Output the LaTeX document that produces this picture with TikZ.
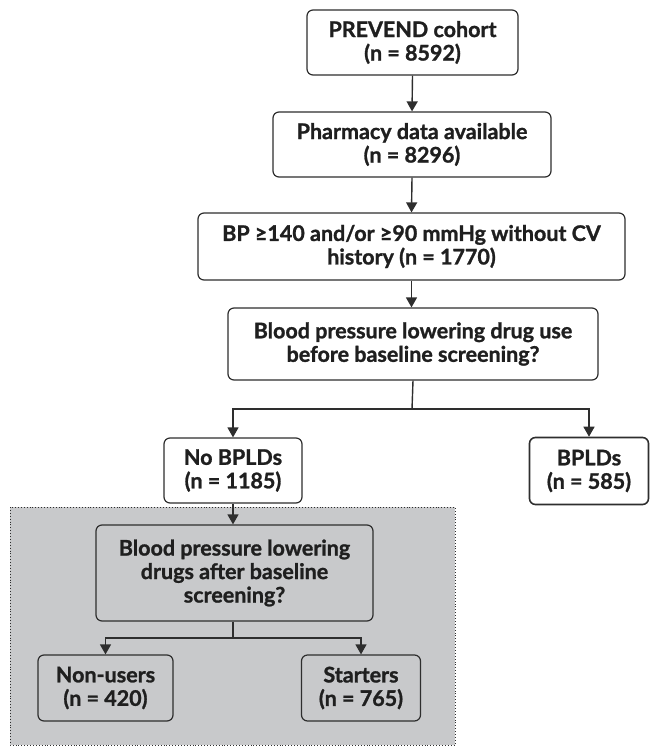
\documentclass[tikz,border=0pt]{standalone}
\usepackage{fontspec}
\setmainfont{Lato}[BoldFeatures={FakeBold=1.2}]
\usetikzlibrary{arrows.meta}
\definecolor{boxline}{HTML}{2E2E2E}
\definecolor{panel}{HTML}{C8C9CB}
\begin{document}
\begin{tikzpicture}[x=1pt,y=-1pt,
  flowbox/.style={draw=boxline, line width=1.2pt, rounded corners=6pt, fill=white, inner sep=0pt, align=center,
    font=\fontsize{21.5}{23.5}\selectfont\bfseries, text=black!88},
  graybox/.style={flowbox, fill=panel},
  arr/.style={draw=boxline, line width=1.4pt, -{Triangle[length=10pt,width=11pt]}},
  ln/.style={draw=boxline, line width=1.4pt}]
\useasboundingbox (0,0) rectangle (650,746);
\fill[panel] (10,507) rectangle (455,745);
\draw[boxline, line width=0.9pt, dotted] (10,507) rectangle (455,745);

\node[flowbox, minimum width=211pt, minimum height=65pt] (prev) at (412.5,42.5) {PREVEND cohort\\(n = 8592)};
\node[flowbox, minimum width=278pt, minimum height=65pt] (pharm) at (412,144.5) {Pharmacy data available\\(n = 8296)};
\node[flowbox, minimum width=427pt, minimum height=67pt] (bp) at (411.5,246.5) {BP ≥140 and/or ≥90 mmHg without CV\\history (n = 1770)};
\node[flowbox, minimum width=370pt, minimum height=72pt] (q1) at (413,344) {Blood pressure lowering drug use\\before baseline screening?};
\node[flowbox, minimum width=138pt, minimum height=65pt] (nob) at (233,470.5) {No BPLDs\\(n = 1185)};
\node[flowbox, line width=1.6pt, minimum width=119pt, minimum height=67pt] (bpld) at (589,471) {BPLDs\\(n = 585)};
\node[graybox, minimum width=277pt, minimum height=96pt] (q2) at (234.5,573) {Blood pressure lowering\\drugs after baseline\\screening?};
\node[graybox, minimum width=135pt, minimum height=66pt] (non) at (105.5,688) {Non-users\\(n = 420)};
\node[graybox, minimum width=119pt, minimum height=66pt] (start) at (361,688) {Starters\\(n = 765)};

\coordinate (s1) at (412,409);
\coordinate (s2) at (233,638);

\draw[arr] (prev.south) -- (pharm.north);
\draw[arr] (pharm.south) -- (bp.north);
\draw[arr] (bp.south) -- (bp.south |- q1.north);
\draw[ln] (q1.south) -- (s1);
\draw[arr] (s1) -| (nob.north);
\draw[arr] (s1) -| (bpld.north);
\draw[arr] (nob.south) -- (nob.south |- q2.north);
\draw[ln] (q2.south -| s2) -- (s2);
\draw[arr] (s2) -| (non.north);
\draw[arr] (s2) -| (start.north);
\end{tikzpicture}
\end{document}
